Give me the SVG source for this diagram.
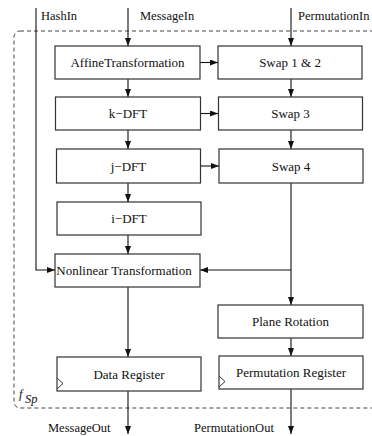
<svg xmlns="http://www.w3.org/2000/svg" width="372" height="436" viewBox="0 0 372 436">
<style>
.box{fill:#fff;stroke:#333;stroke-width:1.2}
.t{font-family:"Liberation Serif","Times New Roman",serif;font-size:13px;fill:#111;text-anchor:middle;dominant-baseline:central}
.lbl{font-family:"Liberation Serif","Times New Roman",serif;font-size:12.5px;fill:#111}
.c{fill:none;stroke:#111;stroke-width:1.1}
</style>
<defs>
<marker id="ah" viewBox="0 0 8 6" refX="8" refY="3" markerWidth="8" markerHeight="6" markerUnits="userSpaceOnUse" orient="auto">
<path d="M0,0 L8,3 L0,6 z" fill="#111"/>
</marker>
</defs>
<rect x="14" y="31" width="400" height="377" rx="6" ry="6" fill="none" stroke="#444" stroke-width="1" stroke-dasharray="4,3"/>
<text x="19" y="398" class="lbl" font-style="italic" font-size="13">f</text>
<text x="25" y="403" class="lbl" font-style="italic" font-size="10">Sp</text>
<g id="connectors">
<path class="c" d="M36,8 V270 H55" marker-end="url(#ah)"/>
<path class="c" d="M128,8 V46" marker-end="url(#ah)"/>
<path class="c" d="M291,8 V46" marker-end="url(#ah)"/>
<path class="c" d="M200,62.5 H218" marker-end="url(#ah)"/>
<path class="c" d="M128,79 V97" marker-end="url(#ah)"/>
<path class="c" d="M291,79 V97" marker-end="url(#ah)"/>
<path class="c" d="M200,113.5 H218" marker-end="url(#ah)"/>
<path class="c" d="M128,130 V149" marker-end="url(#ah)"/>
<path class="c" d="M291,130 V149" marker-end="url(#ah)"/>
<path class="c" d="M201,166 H219" marker-end="url(#ah)"/>
<path class="c" d="M128,183 V202" marker-end="url(#ah)"/>
<path class="c" d="M128,235 V254" marker-end="url(#ah)"/>
<path class="c" d="M291,183 V305" marker-end="url(#ah)"/>
<path class="c" d="M291,270 H200" marker-end="url(#ah)"/>
<path class="c" d="M128,287 V357" marker-end="url(#ah)"/>
<path class="c" d="M291,338 V356" marker-end="url(#ah)"/>
<path class="c" d="M128,391 V434" marker-end="url(#ah)"/>
<path class="c" d="M291,389 V434" marker-end="url(#ah)"/>
</g>
<text x="41" y="20" class="lbl">HashIn</text>
<text x="140" y="20" class="lbl">MessageIn</text>
<text x="298" y="20" class="lbl">PermutationIn</text>
<text x="48" y="432" class="lbl" font-size="11.5">MessageOut</text>
<text x="194" y="432" class="lbl" font-size="11.5">PermutationOut</text>
<g id="affine"><rect class="box" x="55" y="46" width="145" height="33"/><text class="t" x="127.5" y="62.5">AffineTransformation</text></g>
<g id="swap12"><rect class="box" x="218" y="46" width="144" height="33"/><text class="t" x="290" y="62.5">Swap 1 &amp; 2</text></g>
<g id="kdft"><rect class="box" x="55.5" y="97" width="145" height="33"/><text class="t" x="128" y="113.5">k−DFT</text></g>
<g id="swap3"><rect class="box" x="218.5" y="97" width="144" height="33"/><text class="t" x="290.5" y="113.5">Swap 3</text></g>
<g id="jdft"><rect class="box" x="56.5" y="149" width="144" height="34"/><text class="t" x="128.5" y="166">j−DFT</text></g>
<g id="swap4"><rect class="box" x="219" y="149" width="144" height="34"/><text class="t" x="291" y="166">Swap 4</text></g>
<g id="idft"><rect class="box" x="57" y="202" width="144" height="33"/><text class="t" x="129" y="218.5">i−DFT</text></g>
<g id="nonlinear"><rect class="box" x="55" y="254" width="145" height="33"/><text class="t" x="124" y="270.5">Nonlinear Transformation</text></g>
<g id="plane"><rect class="box" x="218" y="305" width="145" height="33"/><text class="t" x="290.5" y="321.5">Plane Rotation</text></g>
<g id="datareg"><rect class="box" x="57" y="357" width="144" height="34"/><path d="M57,378 L63,383.5 L57,389" fill="none" stroke="#333" stroke-width="1"/><text class="t" x="129" y="374">Data Register</text></g>
<g id="permreg"><rect class="box" x="219" y="356" width="144" height="33"/><path d="M219,376 L225,381.5 L219,387" fill="none" stroke="#333" stroke-width="1"/><text class="t" x="291" y="372">Permutation Register</text></g>
</svg>
